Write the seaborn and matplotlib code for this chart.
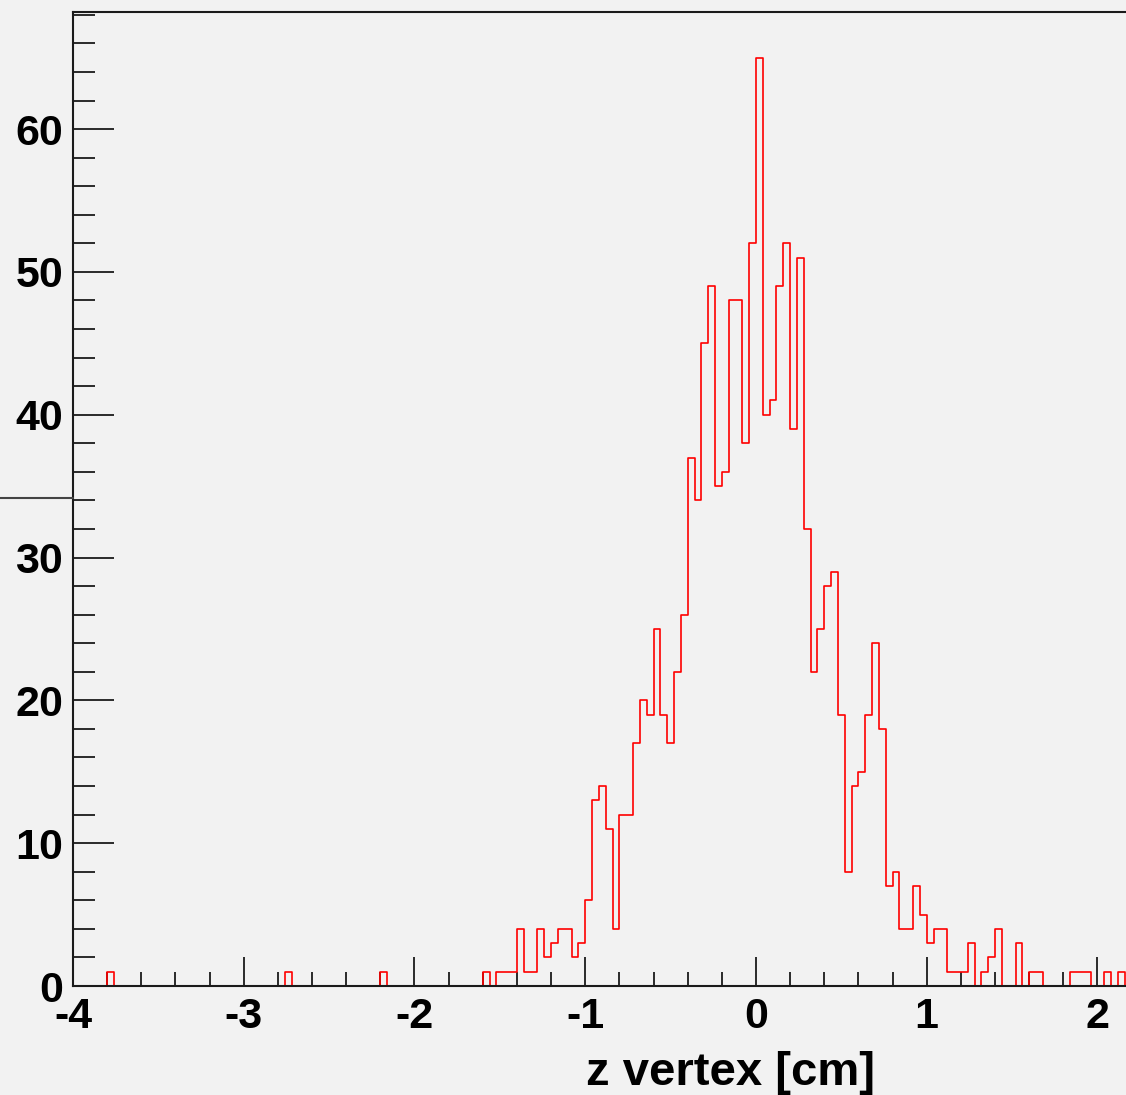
import numpy as np
import pandas as pd
import matplotlib
matplotlib.use("Agg")
import matplotlib.pyplot as plt
from matplotlib.lines import Line2D
from matplotlib.ticker import MultipleLocator
import seaborn as sns

# ---- data: histogram of z vertex, bin width 0.04 cm (bin centres & counts) ----
z_centers = [-3.78, -2.74, -2.18, -1.58, -1.50, -1.46, -1.42, -1.38, -1.34, -1.30,
             -1.26, -1.22, -1.18, -1.14, -1.10, -1.06, -1.02, -0.98, -0.94, -0.90,
             -0.86, -0.82, -0.78, -0.74, -0.70, -0.66, -0.62, -0.58, -0.54, -0.50,
             -0.46, -0.42, -0.38, -0.34, -0.30, -0.26, -0.22, -0.18, -0.14, -0.10,
             -0.06, -0.02, 0.02, 0.06, 0.10, 0.14, 0.18, 0.22, 0.26, 0.30,
             0.34, 0.38, 0.42, 0.46, 0.50, 0.54, 0.58, 0.62, 0.66, 0.70,
             0.74, 0.78, 0.82, 0.86, 0.90, 0.94, 0.98, 1.02, 1.06, 1.10,
             1.14, 1.18, 1.22, 1.26, 1.34, 1.38, 1.42, 1.54, 1.62, 1.66,
             1.86, 1.90, 1.94, 2.06, 2.14]
counts = [1, 1, 1, 1, 1, 1, 1, 4, 1, 1,
          4, 2, 3, 4, 4, 2, 3, 6, 13, 14,
          11, 4, 12, 12, 17, 20, 19, 25, 19, 17,
          22, 26, 37, 34, 45, 49, 35, 36, 48, 48,
          38, 52, 65, 40, 41, 49, 52, 39, 51, 32,
          22, 25, 28, 29, 19, 8, 14, 15, 19, 24,
          18, 7, 8, 4, 4, 7, 5, 3, 4, 4,
          1, 1, 1, 3, 1, 2, 4, 3, 1, 1,
          1, 1, 1, 1, 1]
hist_range = (-4.0, 4.0)
n_bins = 200
x_ticks = [-4, -3, -2, -1, 0, 1, 2]
x_tick_labels = ["-4", "-3", "-2", "-1", "0", "1", "2"]
y_ticks = [0, 10, 20, 30, 40, 50, 60]
y_tick_labels = ["0", "10", "20", "30", "40", "50", "60"]
x_label = "z vertex [cm]"

df = pd.DataFrame({"z": z_centers, "n": counts})

sns.set_theme(style="white")
plt.rcParams["font.family"] = ["Liberation Sans", "DejaVu Sans"]

bg = "#f2f2f2"
axis_col = "#1a1a1a"
fig = plt.figure(figsize=(11.26, 10.95), dpi=100, facecolor=bg)
W, H = 1126, 1095
ax_left, ax_bottom, ax_top = 73, 986, 12
ax = fig.add_axes([ax_left / W, (H - ax_bottom) / H, (W - ax_left) / W, (ax_bottom - ax_top) / H])
ax.set_facecolor(bg)

sns.histplot(data=df, x="z", weights="n", bins=n_bins, binrange=hist_range,
             element="step", fill=False, color="#ff0000", linewidth=1.2, ax=ax)

ax.set_xlim(-4.0, 2.167)
ax.set_ylim(0, 68.2)

for side in ["left", "bottom", "top"]:
    ax.spines[side].set_visible(True)
    ax.spines[side].set_color(axis_col)
    ax.spines[side].set_linewidth(1.5)
    ax.spines[side].set_zorder(5)
ax.spines["right"].set_visible(False)

ax.set_xticks(x_ticks)
ax.set_xticklabels(x_tick_labels, fontweight="bold", fontsize=31, color="black")
ax.set_yticks(y_ticks)
ax.set_yticklabels(y_tick_labels, fontweight="bold", fontsize=31, color="black")
ax.xaxis.set_minor_locator(MultipleLocator(0.2))
ax.yaxis.set_minor_locator(MultipleLocator(2))

ax.tick_params(which="both", bottom=True, left=True, top=False, right=False)
ax.tick_params(axis="x", which="major", direction="in", length=21, width=1.3,
               color=axis_col, pad=8, labelcolor="black")
ax.tick_params(axis="x", which="minor", direction="in", length=10, width=1.3, color=axis_col)
ax.tick_params(axis="y", which="major", direction="in", length=29.5, width=1.3,
               color=axis_col, pad=7, labelcolor="black")
ax.tick_params(axis="y", which="minor", direction="in", length=16, width=1.3, color=axis_col)

ax.set_ylabel("")
ax.set_xlabel(x_label, fontsize=34, fontweight="bold", color="black")
ax.xaxis.label.set_ha("right")
ax.xaxis.label.set_va("baseline")
ax.xaxis.set_label_coords((875 - ax_left) / (W - ax_left), -(1085 - ax_bottom) / (ax_bottom - ax_top))

# small line fragment at the left edge of the picture
fig.add_artist(Line2D([0, ax_left / W], [(H - 498) / H, (H - 498) / H],
                      transform=fig.transFigure, color="#444444", linewidth=1.5))

fig.savefig("out.png", dpi=100, facecolor=bg)
